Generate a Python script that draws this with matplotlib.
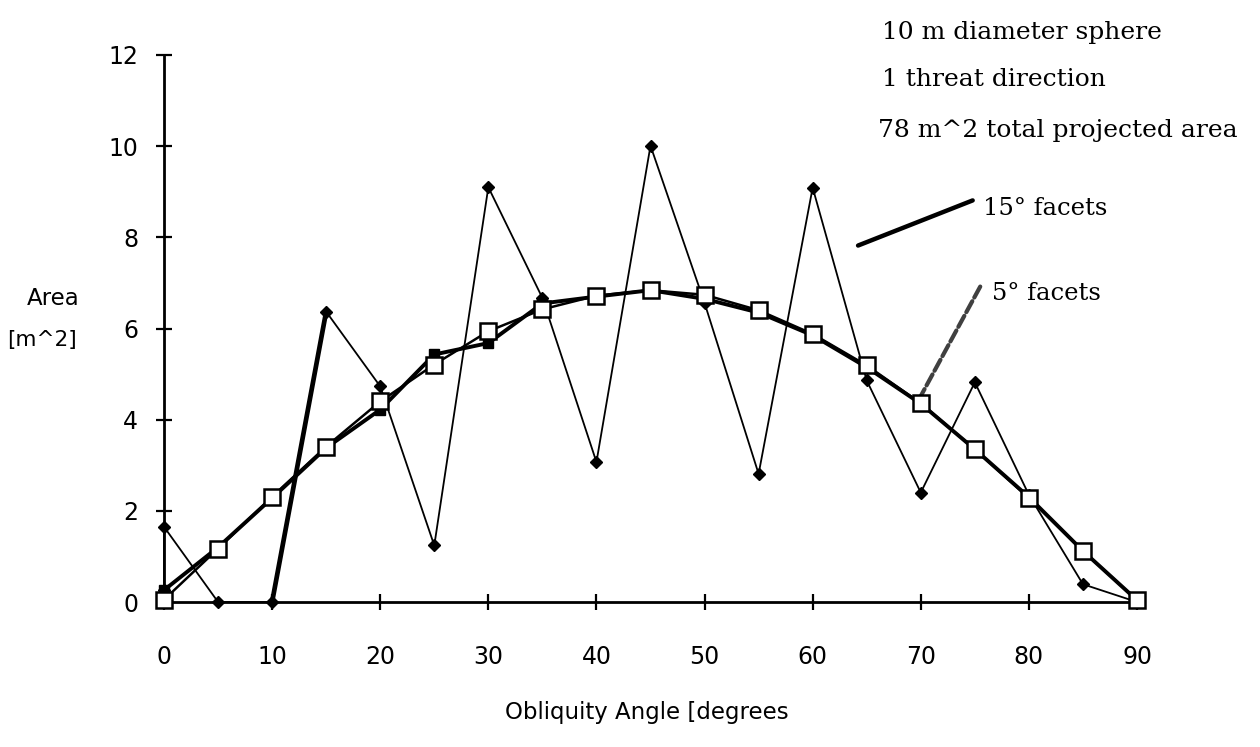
import numpy as np
from matplotlib import pyplot as plt

# obliquity angle bins (degrees)
angles = [0, 5, 10, 15, 20, 25, 30, 35, 40, 45, 50, 55, 60, 65, 70, 75, 80, 85, 90]
# smooth sphere (open squares)
area_sphere = [0.05, 1.17, 2.31, 3.41, 4.40, 5.21, 5.94, 6.42, 6.72, 6.84,
               6.74, 6.40, 5.88, 5.19, 4.36, 3.35, 2.28, 1.12, 0.04]
# 5 deg facets (thick line, filled squares)
area_5deg = [0.26, 1.20, 2.28, 3.38, 4.22, 5.43, 5.68, 6.55, 6.70, 6.84,
             6.65, 6.35, 5.85, 5.15, 4.35, 3.35, 2.30, 1.12, 0.04]
# 15 deg facets (thin line, diamonds)
angles_15 = [0, 0, 5, 10, 15, 20, 25, 30, 35, 40, 45, 50, 55, 60, 65, 70, 75, 80, 85, 90]
area_15deg = [0.26, 1.65, 0.0, 0.0, 6.37, 4.73, 1.24, 9.10, 6.67, 3.07, 10.01,
              6.56, 2.81, 9.09, 4.86, 2.40, 4.82, 2.35, 0.39, 0.0]

W, H = 1260, 747
fig = plt.figure(figsize=(W / 100, H / 100), dpi=100)
ax = fig.add_axes([164 / W, (H - 602) / H, 973 / W, 547 / H])

ax.plot(angles_15, area_15deg, color="black", lw=1.3, marker="D", ms=6.5,
        mfc="black", mec="black", clip_on=False, zorder=3)
ax.plot(angles_15[3:5], area_15deg[3:5], color="black", lw=3.4,
        solid_capstyle="butt", zorder=3)
ax.plot(angles, area_5deg, color="black", lw=2.8, marker="s", ms=7,
        mfc="black", mec="black", clip_on=False, zorder=4)
ax.plot(angles, area_sphere, color="black", lw=1.8, marker="s", ms=11.5,
        mfc="white", mec="black", mew=1.8, clip_on=False, zorder=5)

ax.set_xlim(0, 90)
ax.set_ylim(0, 12)
ax.set_xticks(np.arange(0, 91, 10))
ax.set_yticks(np.arange(0, 13, 2))
for s in ["top", "right"]:
    ax.spines[s].set_visible(False)
for s in ["left", "bottom"]:
    ax.spines[s].set_linewidth(2.0)
ax.tick_params(axis="both", direction="inout", width=1.6, labelsize=17)
ax.tick_params(axis="y", length=11, pad=13)
ax.tick_params(axis="x", length=12, pad=25)

# pointer lines for the two faceted series
ax.annotate("", xy=(64.2, 7.82), xytext=(74.8, 8.81),
            arrowprops=dict(arrowstyle="-", lw=3.2, color="black",
                            shrinkA=0, shrinkB=0))
ax.annotate("", xy=(69.5, 4.3), xytext=(75.5, 6.92),
            arrowprops=dict(arrowstyle="-", lw=3.0, color="0.25",
                            linestyle=(0, (3, 1)), shrinkA=0, shrinkB=0))
ax.text(75.8, 8.63, "15° facets", family="DejaVu Serif", fontsize=17.5,
        va="center", ha="left")
ax.text(76.6, 6.76, "5° facets", family="DejaVu Serif", fontsize=17.5,
        va="center", ha="left")

serif = dict(family="DejaVu Serif", fontsize=18, va="center", ha="left")
fig.text(882 / W, 1 - 33 / H, "10 m diameter sphere", **serif)
fig.text(882 / W, 1 - 80 / H, "1 threat direction", **serif)
fig.text(878 / W, 1 - 130 / H, "78 m^2 total projected area", **serif)

fig.text(53 / W, 1 - 298 / H, "Area", fontsize=16.5, ha="center", va="center")
fig.text(42 / W, 1 - 340 / H, "[m^2]", fontsize=15.5, ha="center", va="center")
fig.text(647 / W, 1 - 713 / H, "Obliquity Angle [degrees", fontsize=16.5,
         ha="center", va="center")

fig.savefig("out.png", dpi=100)
